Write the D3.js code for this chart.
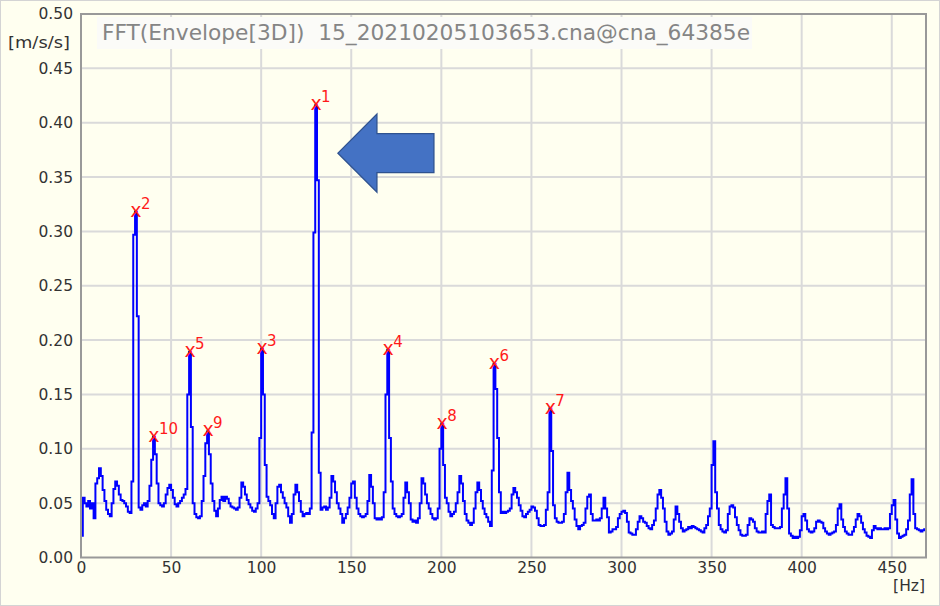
<!DOCTYPE html>
<html><head><meta charset="utf-8">
<script src="https://cdn.jsdelivr.net/npm/d3@7"></script>
<style>body{margin:0;background:#fff}svg text{font-family:"DejaVu Sans",sans-serif}</style>
</head><body><svg id="c" width="940" height="606"></svg>
<script>
// ---- data ----
const binWidthHz = 1; // spectrum resolution used for the series below, starting at 0 Hz
const amplitude = [
.020,.055,.050,.047,.052,.045,.050,.036,.068,.073,
.082,.075,.062,.052,.044,.040,.038,.050,.063,.070,
.066,.058,.053,.052,.050,.047,.042,.041,.070,.297,
.318,.222,.046,.044,.048,.050,.047,.052,.066,.090,
.111,.095,.068,.050,.048,.047,.050,.058,.064,.067,
.062,.055,.049,.047,.050,.052,.055,.058,.063,.150,
.189,.120,.050,.040,.037,.036,.038,.052,.075,.105,
.116,.095,.068,.052,.043,.038,.045,.053,.056,.052,
.056,.054,.050,.047,.046,.045,.044,.046,.055,.069,
.065,.058,.053,.049,.046,.043,.042,.045,.050,.110,
.192,.150,.085,.056,.052,.048,.040,.036,.050,.065,
.067,.060,.055,.050,.046,.038,.032,.040,.058,.067,
.060,.052,.042,.038,.040,.041,.040,.045,.115,.299,
.416,.347,.078,.044,.046,.047,.044,.046,.055,.075,
.070,.060,.050,.045,.040,.032,.036,.040,.046,.055,
.068,.070,.055,.045,.040,.038,.037,.038,.040,.052,
.076,.065,.050,.036,.035,.036,.035,.037,.060,.150,
.191,.110,.070,.045,.040,.038,.037,.038,.040,.055,
.069,.060,.050,.035,.033,.034,.032,.036,.050,.073,
.068,.058,.050,.045,.040,.036,.035,.036,.045,.100,
.123,.085,.055,.050,.042,.038,.040,.042,.050,.060,
.075,.068,.052,.040,.034,.032,.030,.032,.045,.060,
.069,.062,.052,.045,.040,.037,.033,.029,.080,.178,
.155,.110,.060,.041,.042,.041,.042,.043,.045,.058,
.064,.060,.055,.048,.043,.038,.037,.040,.042,.044,
.047,.046,.043,.036,.030,.029,.029,.030,.044,.060,
.137,.098,.048,.036,.033,.032,.032,.033,.040,.060,
.078,.062,.052,.045,.035,.029,.026,.029,.030,.032,
.045,.056,.058,.040,.034,.034,.035,.034,.036,.045,
.055,.045,.037,.023,.024,.026,.026,.028,.036,.040,
.042,.043,.041,.033,.023,.022,.021,.021,.026,.033,
.038,.036,.033,.032,.029,.027,.026,.030,.034,.045,
.058,.062,.055,.045,.033,.024,.021,.022,.024,.035,
.047,.040,.033,.027,.024,.025,.026,.028,.027,.029,
.028,.027,.026,.025,.024,.023,.027,.030,.038,.045,
.085,.107,.060,.045,.030,.026,.024,.023,.025,.040,
.047,.048,.046,.037,.030,.025,.021,.020,.020,.021,
.030,.036,.035,.033,.027,.024,.023,.023,.024,.023,
.040,.052,.058,.030,.028,.027,.027,.027,.028,.045,
.058,.073,.045,.022,.020,.018,.019,.018,.019,.025,
.038,.040,.034,.026,.024,.023,.024,.027,.033,.034,
.033,.032,.027,.024,.022,.021,.022,.023,.024,.030,
.045,.049,.035,.028,.024,.022,.021,.021,.024,.028,
.035,.040,.038,.032,.026,.023,.020,.019,.018,.025,
.029,.027,.026,.027,.026,.026,.027,.026,.027,.040,
.048,.053,.035,.022,.018,.019,.020,.021,.026,.034,
.058,.072,.040,.027,.026,.025,.024,.025,.026,.027
];
const peakRank  = [1, 2, 3, 4, 5, 6, 7, 8, 9, 10];
const peakFreq  = [130, 30, 100, 170, 60, 229, 260, 200, 70, 40];
const peakValue = [0.416, 0.318, 0.192, 0.191, 0.189, 0.178, 0.137, 0.123, 0.116, 0.111];
const yTicks = [0, 0.05, 0.10, 0.15, 0.20, 0.25, 0.30, 0.35, 0.40, 0.45, 0.50];
const xTicks = [0, 50, 100, 150, 200, 250, 300, 350, 400, 450];
const xMax = 469, yMax = 0.5;
const titleText = "FFT(Envelope[3D])  15_20210205103653.cna@cna_64385e";
const yUnit = "[m/s/s]", xUnit = "[Hz]";

// ---- layout ----
const W = 940, H = 606;
const L = 81, R = 926, T = 14, B = 557.5;
const svg = d3.select("#c");
const x = d3.scaleLinear().domain([0, xMax]).range([L, R]);
const y = d3.scaleLinear().domain([0, yMax]).range([B, T]);

svg.append("rect").attr("x",0.5).attr("y",0.5).attr("width",W-1).attr("height",H-1)
  .attr("fill","#fffff0").attr("stroke","#d4d4d4");

// grid
svg.append("g").selectAll("line").data(yTicks.filter(d=>d>0&&d<yMax)).join("line")
  .attr("x1",L).attr("x2",R).attr("y1",d=>y(d)).attr("y2",d=>y(d))
  .attr("stroke","#dadada").attr("stroke-width",2);
svg.append("g").selectAll("line").data(xTicks.filter(d=>d>0)).join("line")
  .attr("y1",T).attr("y2",B).attr("x1",d=>x(d)).attr("x2",d=>x(d))
  .attr("stroke","#dadada").attr("stroke-width",2);

// title box
svg.append("rect").attr("x",97).attr("y",17).attr("width",655).attr("height",32)
  .attr("fill","#fbfbf8");
svg.append("text").attr("x",102).attr("y",40).style("white-space","pre")
  .attr("font-size",21).attr("fill","#858585")
  .attr("textLength",648).attr("lengthAdjust","spacingAndGlyphs")
  .text(titleText);

// axes labels
const yAxis = d3.axisLeft(y).tickValues(yTicks).tickFormat(d3.format(".2f")).tickSize(0).tickPadding(8);
const gy = svg.append("g").attr("transform",`translate(${L},0)`).call(yAxis);
gy.select(".domain").remove();
gy.selectAll("text").attr("font-size",15.5).attr("fill","#333").attr("font-family","DejaVu Sans");
const xAxis = d3.axisBottom(x).tickValues(xTicks).tickFormat(d3.format("d")).tickSize(0).tickPadding(4);
const gx = svg.append("g").attr("transform",`translate(0,${B})`).call(xAxis);
gx.select(".domain").remove();
gx.selectAll("text").attr("font-size",15.5).attr("fill","#333").attr("font-family","DejaVu Sans");

svg.append("text").attr("x",70).attr("y",48).attr("text-anchor","end")
  .attr("font-size",15.5).attr("fill","#333")
  .attr("textLength",62).attr("lengthAdjust","spacingAndGlyphs").text(yUnit);
svg.append("text").attr("x",925).attr("y",591).attr("text-anchor","end")
  .attr("font-size",15.5).attr("fill","#333").text(xUnit);

// spectrum line (each bin drawn as a step across its width)
svg.append("clipPath").attr("id","pc").append("rect")
  .attr("x",L).attr("y",T).attr("width",R-L).attr("height",B-T);
const line = d3.line().x((d,i)=>x(i*binWidthHz)).y(d=>y(d)).curve(d3.curveStepAfter);
svg.append("path").datum(amplitude).attr("d",line).attr("fill","none")
  .attr("stroke","#0000ff").attr("stroke-width",2).attr("clip-path","url(#pc)");

// plot frame
svg.append("rect").attr("x",L).attr("y",T).attr("width",R-L).attr("height",B-T)
  .attr("fill","none").attr("stroke","#999").attr("stroke-width",2);

// peak markers (placed at the centre of the peak bin)
const mk = svg.append("g").selectAll("g").data(peakRank).join("g")
  .attr("transform",(d,i)=>`translate(${x(peakFreq[i]+binWidthHz/2)},${y(peakValue[i])})`);
mk.append("text").attr("text-anchor","middle").attr("y",5).attr("font-size",19)
  .attr("fill","#ff1a1a").text("x");
mk.append("text").attr("x",5).attr("y",-3).attr("font-size",15)
  .attr("fill","#ff1a1a").text(d=>d);

// annotation arrow (pointing at the dominant peak)
const ax0 = x(142.6), ay = y(0.372);
const arrowPts = [[ax0,ay],[ax0+39,ay-39],[ax0+39,ay-19.5],[ax0+96,ay-19.5],[ax0+96,ay+19.5],[ax0+39,ay+19.5],[ax0+39,ay+39]];
svg.append("polygon").attr("points",arrowPts.map(p=>p.join(",")).join(" "))
  .attr("fill","#4472c4").attr("stroke","#2f528f").attr("stroke-width",1.3);
</script></body></html>
